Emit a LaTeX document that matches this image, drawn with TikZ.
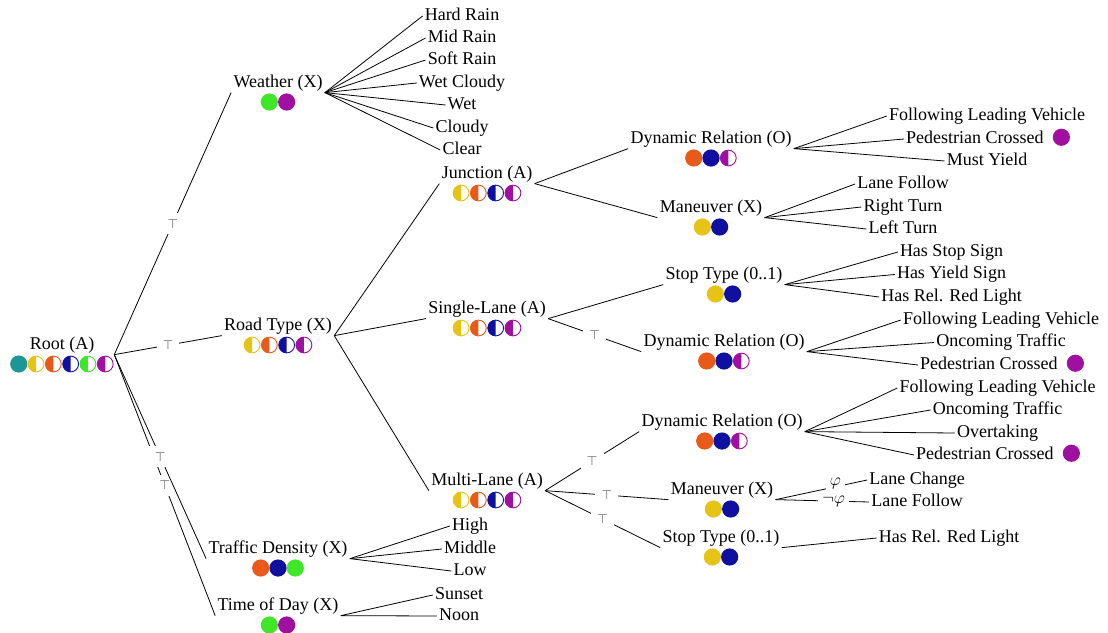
\documentclass[tikz,border=0pt]{standalone}
\usepackage{fontspec}
\setmainfont{Liberation Serif}
\newfontfamily\djv{DejaVu Sans}
\usetikzlibrary{fit}
\definecolor{cteal}{RGB}{30,150,150}
\definecolor{cyel}{RGB}{230,195,20}
\definecolor{corg}{RGB}{232,90,25}
\definecolor{cblu}{RGB}{16,16,160}
\definecolor{cgrn}{RGB}{64,230,40}
\definecolor{cpur}{RGB}{160,16,160}
\definecolor{tgray}{RGB}{120,120,120}
\tikzset{
  lbl/.style={font=\fontsize{18}{21}\selectfont, inner sep=2pt, text height=12.5pt, text depth=4pt},
  edge/.style={draw=black, line width=0.8pt},
  toplbl/.style={font=\djv\fontsize{12.5}{13}\selectfont, text=tgray, fill=white, inner sep=6pt},
  phil/.style={font=\fontsize{18}{18}\selectfont, fill=white, inner sep=4pt, pos=0.62},
}
% feature node: name, x, y(text), label, number of circles, circle list
\newcommand{\fnode}[6]{%
  \node[lbl] (#1-t) at (#2,#3+2) {#4};
  \node[inner sep=0pt, minimum width={#5*17.3pt}, minimum height=21pt] (#1-c) at (#2,#3+21) {};
  \foreach \typ/\col [count=\i] in {#6} {%
    \pgfmathsetmacro\cx{#2+(\i-(#5+1)/2)*17.3}%
    \if F\typ
      \fill[\col] (\cx,#3+21) circle (8.6pt);
    \else
      \fill[\col] (\cx,#3+21) ++(90:7.9pt) arc[start angle=90,end angle=270,radius=7.9pt] -- cycle;
      \draw[\col, line width=0.9pt] (\cx,#3+21) circle (7.9pt);
    \fi
  }
  \node[fit=(#1-t)(#1-c), inner sep=0pt] (#1) {};
}
\newcommand{\leafc}[4]{\node[lbl] (#1) at (#2,#3+2) {#4};}
\newcommand{\leafw}[4]{\node[lbl, anchor=west] (#1) at (#2-2,#3+2) {#4};}
\newcommand{\leafdot}[1]{\fill[cpur] (#1.east) ++(15.5pt,1.75pt) circle (8.6pt);}
\begin{document}
\begin{tikzpicture}[x=1pt,y=-1pt]
\useasboundingbox (0,0) rectangle (1108,632);
% feature nodes
\fnode{root}{62}{343}{Root (A)}{6}{F/cteal,H/cyel,H/corg,H/cblu,H/cgrn,H/cpur}
\fnode{weather}{278}{81}{Weather (X)}{2}{F/cgrn,F/cpur}
\fnode{road}{278}{324}{Road Type (X)}{4}{H/cyel,H/corg,H/cblu,H/cpur}
\fnode{traffic}{278}{547}{Traffic Density (X)}{3}{F/corg,F/cblu,F/cgrn}
\fnode{time}{278}{604}{Time of Day (X)}{2}{F/cgrn,F/cpur}
\fnode{junc}{487}{172}{Junction (A)}{4}{H/cyel,H/corg,H/cblu,H/cpur}
\fnode{single}{487}{307}{Single-Lane (A)}{4}{H/cyel,H/corg,H/cblu,H/cpur}
\fnode{multi}{487}{479}{Multi-Lane (A)}{4}{H/cyel,H/corg,H/cblu,H/cpur}
\fnode{jdyn}{711}{137}{Dynamic Relation (O)}{3}{F/corg,F/cblu,H/cpur}
\fnode{jman}{711}{206}{Maneuver (X)}{2}{F/cyel,F/cblu}
\fnode{sstop}{724}{273}{Stop Type (0..1)}{2}{F/cyel,F/cblu}
\fnode{sdyn}{724}{340}{Dynamic Relation (O)}{3}{F/corg,F/cblu,H/cpur}
\fnode{mdyn}{722}{420}{Dynamic Relation (O)}{3}{F/corg,F/cblu,H/cpur}
\fnode{mman}{722}{488}{Maneuver (X)}{2}{F/cyel,F/cblu}
\fnode{mstop}{721}{536}{Stop Type (0..1)}{2}{F/cyel,F/cblu}
% leaves
\leafc{wl1}{462}{14}{Hard Rain}
\leafc{wl2}{462}{36}{Mid Rain}
\leafc{wl3}{462}{58}{Soft Rain}
\leafc{wl4}{462}{81}{Wet Cloudy}
\leafc{wl5}{462}{103}{Wet}
\leafc{wl6}{462}{126}{Cloudy}
\leafc{wl7}{462}{148}{Clear}
\leafc{tl1}{470}{524}{High}
\leafc{tl2}{470}{547}{Middle}
\leafc{tl3}{470}{569}{Low}
\leafc{ol1}{459}{593}{Sunset}
\leafc{ol2}{459}{614}{Noon}
\leafc{jd1}{987}{114}{Following Leading Vehicle}
\leafw{jd2}{906}{137}{Pedestrian Crossed}
\leafc{jd3}{987}{159}{Must Yield}
\leafc{jm1}{903}{182}{Lane Follow}
\leafc{jm2}{903}{205}{Right Turn}
\leafc{jm3}{903}{227}{Left Turn}
\leafc{ss1}{951.5}{250}{Has Stop Sign}
\leafc{ss2}{951.5}{272.5}{Has Yield Sign}
\leafc{ss3}{951.5}{295}{Has Rel. Red Light}
\leafc{sd1}{1001}{318}{Following Leading Vehicle}
\leafc{sd2}{1001}{340.5}{Oncoming Traffic}
\leafw{sd3}{920}{363}{Pedestrian Crossed}
\leafc{md1}{997.5}{386}{Following Leading Vehicle}
\leafc{md2}{997.5}{408}{Oncoming Traffic}
\leafc{md3}{997.5}{431}{Overtaking}
\leafw{md4}{916}{453}{Pedestrian Crossed}
\leafc{mm1}{917}{478}{Lane Change}
\leafc{mm2}{917}{500}{Lane Follow}
\leafc{ms1}{949}{536}{Has Rel. Red Light}
\leafdot{jd2}
\leafdot{sd3}
\leafdot{md4}
% edges from root
\draw[edge] (root.east) -- node[toplbl]{⊤} (weather.west);
\draw[edge] (root.east) -- node[toplbl]{⊤} (road.west);
\draw[edge] (root.east) -- node[toplbl]{⊤} (time.west);
\draw[edge] (root.east) -- node[toplbl]{⊤} (traffic.west);
% road type
\draw[edge] (road.east) -- (junc.west);
\draw[edge] (road.east) -- (single.west);
\draw[edge] (road.east) -- (multi.west);
% junction
\draw[edge] (junc.east) -- (jdyn.west);
\draw[edge] (junc.east) -- (jman.west);
% single lane
\draw[edge] (single.east) -- (sstop.west);
\draw[edge] (single.east) -- node[toplbl]{⊤} (sdyn.west);
% multi lane
\draw[edge] (multi.east) -- node[toplbl]{⊤} (mdyn.west);
\draw[edge] (multi.east) -- node[toplbl]{⊤} (mman.west);
\draw[edge] (multi.east) -- node[toplbl]{⊤} (mstop.west);
% leaf edges
\foreach \k in {1,...,7} \draw[edge] (weather.east) -- (wl\k.west);
\foreach \k in {1,2,3} \draw[edge] (traffic.east) -- (tl\k.west);
\foreach \k in {1,2} \draw[edge] (time.east) -- (ol\k.west);
\foreach \k in {1,2,3} \draw[edge] (jdyn.east) -- (jd\k.west);
\foreach \k in {1,2,3} \draw[edge] (jman.east) -- (jm\k.west);
\foreach \k in {1,2,3} \draw[edge] (sstop.east) -- (ss\k.west);
\foreach \k in {1,2,3} \draw[edge] (sdyn.east) -- (sd\k.west);
\foreach \k in {1,2,3,4} \draw[edge] (mdyn.east) -- (md\k.west);
\draw[edge] (mman.east) -- node[phil, xshift=3pt, yshift=4pt]{$\varphi$} (mm1.west);
\draw[edge] (mman.east) -- node[phil]{$\neg\varphi$} (mm2.west);
\draw[edge] (mstop.east) -- (ms1.west);
\end{tikzpicture}
\end{document}
